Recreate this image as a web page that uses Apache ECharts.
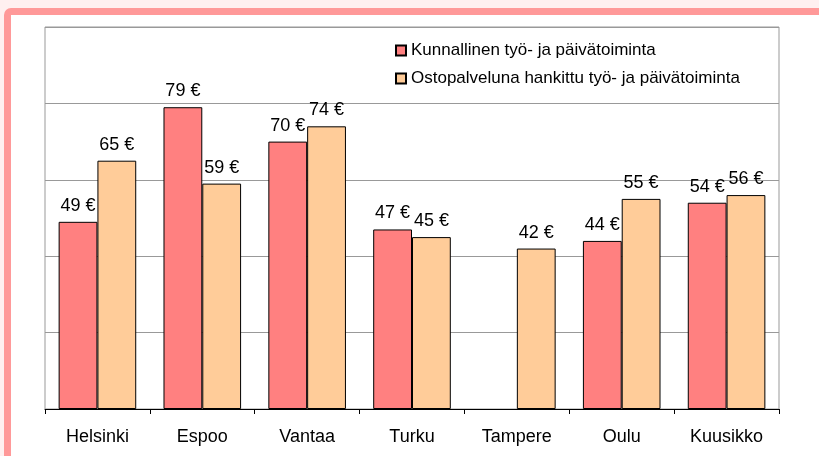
<!DOCTYPE html>
<html>
<head>
<meta charset="utf-8">
<script src="https://cdn.jsdelivr.net/npm/echarts@6/dist/echarts.min.js"></script>
<style>
html,body{margin:0;padding:0;background:#FFF0F0;width:819px;height:456px;overflow:hidden;}
#frame{position:absolute;left:4px;top:8px;width:840px;height:480px;border:7px solid #FF9999;border-radius:7px;background:#fff;box-sizing:border-box;}
#chart{position:absolute;left:0;top:0;width:819px;height:456px;}
</style>
</head>
<body>
<div id="frame"></div>
<div id="chart"></div>
<script>
const categories = ['Helsinki', 'Espoo', 'Vantaa', 'Turku', 'Tampere', 'Oulu', 'Kuusikko'];
const seriesNames = ['Kunnallinen työ- ja päivätoiminta', 'Ostopalveluna hankittu työ- ja päivätoiminta'];
const kunnallinen = [49, 79, 70, 47, null, 44, 54];
const ostopalvelu = [65, 59, 74, 45, 42, 55, 56];
const yTicks = [0, 20, 40, 60, 80, 100];

const font = "'Liberation Sans', Arial, sans-serif";
const chart = echarts.init(document.getElementById('chart'), null, {renderer: 'canvas'});
const labelCfg = {
  show: true, position: 'top', distance: 7,
  formatter: p => p.value + ' €',
  color: '#000', fontFamily: font, fontSize: 18
};
chart.setOption({
  animation: false,
  backgroundColor: 'transparent',
  grid: {left: 45, right: 40, top: 27, bottom: 47, show: true, borderColor: '#999', borderWidth: 1, backgroundColor: 'transparent'},
  legend: {
    orient: 'vertical', left: 390, top: 37,
    itemWidth: 10, itemHeight: 10, itemGap: 11,
    icon: 'rect',
    textStyle: {fontFamily: font, fontSize: 17, color: '#000'},
    data: seriesNames
  },
  xAxis: {
    type: 'category', data: categories,
    axisLine: {lineStyle: {color: '#000', width: 1}},
    axisTick: {show: true, length: 5, lineStyle: {color: '#000'}},
    axisLabel: {fontFamily: font, fontSize: 18, color: '#000', margin: 19},
    splitLine: {show: false}
  },
  yAxis: {
    type: 'value', min: yTicks[0], max: yTicks[yTicks.length-1], interval: 20,
    axisLabel: {show: false}, axisLine: {show: false}, axisTick: {show: false},
    splitLine: {lineStyle: {color: '#999', width: 1}}
  },
  series: [
    {name: seriesNames[0], type: 'bar', data: kunnallinen, barGap: '0%', barCategoryGap: '26%',
     itemStyle: {color: '#FF8080', borderColor: '#000', borderWidth: 1}, label: labelCfg},
    {name: seriesNames[1], type: 'bar', data: ostopalvelu, barGap: '0%', barCategoryGap: '26%',
     itemStyle: {color: '#FFCC99', borderColor: '#000', borderWidth: 1}, label: labelCfg}
  ]
});
</script>
</body>
</html>
